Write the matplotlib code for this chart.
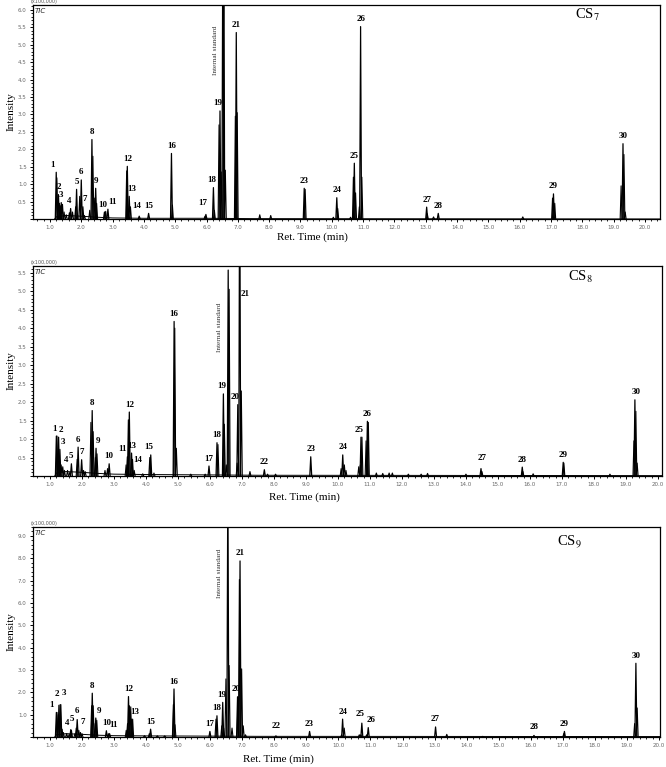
import numpy as np
import matplotlib
matplotlib.use("Agg")
import matplotlib.pyplot as plt
from matplotlib.ticker import MultipleLocator

plt.rcParams["mathtext.fontset"] = "stix"
SERIF = "Liberation Serif"

# ---- CS7 ----
cs7_ids = ["1", "2", "3", "4", "5", "6", "7", "8", "9", "10", "11", "12", "13", "14", "15",
           "16", "17", "18", "19", "IS", "21", "23", "24", "25", "26", "27", "28", "29", "30"]
cs7_t = [1.20, 1.27, 1.36, 1.66, 1.85, 2.00, 2.05, 2.34, 2.46, 2.74, 2.85, 3.47, 3.53, 3.85, 4.15,
         4.88, 5.98, 6.22, 6.43, 6.55, 6.95, 9.12, 10.16, 10.72, 10.92, 13.03, 13.40, 17.08, 19.30]
cs7_h = [1.34, 0.70, 0.47, 0.30, 0.85, 1.12, 0.35, 2.28, 0.88, 0.20, 0.28, 1.51, 0.65, 0.08, 0.16,
         1.88, 0.13, 0.90, 3.10, 9.00, 5.35, 0.88, 0.61, 1.60, 5.52, 0.34, 0.16, 0.72, 2.16]
cs7_xt = [1.22, 1.30, 1.33, 1.40, 1.45, 1.52, 1.62, 1.72, 1.82, 1.95, 2.10, 2.27, 2.37, 2.43, 2.49,
          2.78, 3.45, 3.57, 4.91, 5.95, 6.25, 6.40, 6.47, 6.52, 6.60, 6.92, 6.98, 7.70, 8.05, 9.15,
          10.05, 10.19, 10.60, 10.69, 10.76, 10.88, 10.96, 13.05, 13.25, 16.10, 17.05, 17.12,
          19.24, 19.33, 19.37]
cs7_xh = [1.18, 0.45, 0.38, 0.42, 0.20, 0.12, 0.18, 0.20, 0.35, 0.65, 0.10, 0.25, 1.80, 0.60, 0.45,
          0.22, 1.38, 0.35, 0.40, 0.08, 0.25, 2.70, 1.35, 9.00, 1.40, 2.95, 3.05, 0.12, 0.10, 0.85,
          0.05, 0.30, 0.05, 1.20, 0.75, 0.35, 1.20, 0.15, 0.06, 0.06, 0.60, 0.45,
          0.95, 1.85, 0.20]
cs7_bt = [1.15, 1.20, 1.50, 2.00, 2.50, 3.00, 4.00, 6.00, 7.50, 20.5]
cs7_bh = [0.00, 0.06, 0.10, 0.08, 0.05, 0.03, 0.02, 0.02, 0.01, 0.00]

# ---- CS8 ----
cs8_ids = ["1", "2", "3", "4", "5", "6", "7", "8", "9", "10", "11", "12", "13", "14", "15",
           "16", "17", "18", "19", "IS", "20", "21", "22", "23", "24", "25", "26", "27", "28", "29", "30"]
cs8_t = [1.20, 1.27, 1.31, 1.45, 1.67, 1.88, 1.99, 2.32, 2.44, 2.85, 3.42, 3.48, 3.55, 3.63, 4.15,
         4.88, 5.97, 6.22, 6.42, 6.57, 6.87, 6.93, 7.70, 9.15, 10.15, 10.72, 10.92, 14.47, 15.76,
         17.04, 19.28]
cs8_h = [1.08, 1.05, 0.72, 0.15, 0.33, 0.78, 0.44, 1.77, 0.75, 0.33, 0.52, 1.73, 0.62, 0.15, 0.57,
         4.18, 0.27, 0.90, 2.22, 5.57, 1.93, 9.00, 0.17, 0.52, 0.57, 1.05, 1.48, 0.20, 0.24,
         0.37, 2.06]
cs8_xt = [1.22, 1.25, 1.35, 1.40, 1.55, 1.62, 1.85, 2.05, 2.10, 2.28, 2.35, 2.42, 2.47, 2.72, 2.80,
          3.38, 3.45, 3.58, 3.90, 4.12, 4.25, 4.90, 4.95, 5.40, 5.85, 6.25, 6.45, 6.51, 6.60, 6.85,
          6.98, 7.25, 7.80, 8.05, 10.10, 10.20, 10.25, 10.65, 10.70, 10.75, 10.88, 10.95, 11.20,
          11.40, 11.60, 11.70, 12.20, 12.60, 12.80, 14.00, 14.50, 15.78, 16.10, 17.06, 18.50,
          19.25, 19.31, 19.35]
cs8_xh = [1.08, 0.50, 0.30, 0.25, 0.15, 0.10, 0.45, 0.15, 0.12, 1.45, 1.20, 0.50, 0.60, 0.15, 0.20,
          0.30, 1.52, 0.45, 0.06, 0.50, 0.08, 4.00, 0.75, 0.05, 0.05, 0.85, 1.40, 0.30, 5.05, 0.35,
          2.30, 0.12, 0.05, 0.05, 0.20, 0.30, 0.15, 0.25, 0.30, 1.05, 0.95, 1.45, 0.08,
          0.07, 0.08, 0.08, 0.05, 0.05, 0.07, 0.05, 0.12, 0.12, 0.06, 0.35, 0.05,
          0.95, 1.75, 0.35]
cs8_bt = [1.15, 1.20, 1.50, 2.00, 2.50, 3.00, 4.00, 6.00, 7.50, 20.5]
cs8_bh = [0.00, 0.08, 0.12, 0.10, 0.07, 0.05, 0.04, 0.03, 0.02, 0.01]

# ---- CS9 ----
cs9_ids = ["1", "2", "3", "4", "5", "6", "7", "8", "9", "10", "11", "12", "13", "15",
           "16", "17", "18", "19", "IS", "20", "21", "22", "23", "24", "25", "26", "27", "28", "29", "30"]
cs9_t = [1.20, 1.28, 1.32, 1.52, 1.65, 1.85, 1.95, 2.32, 2.43, 2.76, 2.86, 3.45, 3.55, 4.14,
         4.87, 5.99, 6.21, 6.39, 6.55, 6.87, 6.93, 8.05, 9.10, 10.13, 10.73, 10.93, 13.03, 16.10,
         17.05, 19.28]
cs9_h = [1.10, 1.42, 1.45, 0.15, 0.33, 0.78, 0.20, 1.96, 0.85, 0.28, 0.15, 1.81, 0.80, 0.35,
         2.15, 0.25, 0.95, 1.55, 12.0, 1.80, 7.88, 0.05, 0.25, 0.80, 0.62, 0.42, 0.45, 0.07,
         0.25, 3.30]
cs9_xt = [1.22, 1.26, 1.34, 1.38, 1.42, 1.60, 1.67, 1.78, 1.82, 1.90, 2.00, 2.30, 2.35, 2.41, 2.46,
          2.82, 3.38, 3.42, 3.48, 3.52, 3.58, 3.95, 4.10, 4.35, 4.58, 4.85, 4.90, 6.18, 6.36, 6.42,
          6.49, 6.59, 6.68, 6.85, 6.91, 6.98, 7.03, 7.10, 10.10, 10.18, 10.65, 10.70, 10.88,
          13.38, 14.50, 17.03, 19.24, 19.32]
cs9_xh = [1.10, 1.00, 1.45, 0.35, 0.20, 0.12, 0.30, 0.15, 0.40, 0.30, 0.15, 1.40, 1.40, 0.60, 0.75,
          0.15, 0.30, 0.60, 1.40, 1.35, 0.80, 0.06, 0.15, 0.05, 0.05, 1.45, 0.55, 0.80, 0.50, 0.40,
          2.60, 3.20, 0.40, 1.80, 7.05, 3.05, 0.50, 0.10, 0.10, 0.40, 0.10, 0.10, 0.10,
          0.12, 0.03, 0.15, 0.60, 1.30]
cs9_bt = [1.15, 1.20, 1.50, 2.00, 2.50, 3.00, 4.00, 6.00, 7.50, 20.5]
cs9_bh = [0.00, 0.10, 0.15, 0.12, 0.08, 0.06, 0.05, 0.04, 0.03, 0.02]

# label nudges in points (dx, dy)
cs7_nudge = {"1": (-2.5, 0), "4": (-1, 0), "7": (1.5, 0), "10": (-1.5, 0), "11": (3.5, 0),
             "13": (2, 0), "14": (-1.5, 2), "17": (-2.5, 3), "18": (-1, 0), "19": (-1.5, 0)}
cs8_nudge = {"1": (-1, 0), "2": (1.5, 0), "3": (2, 0), "4": (1, 2), "9": (1.5, 0), "11": (-3.5, 0),
             "13": (0.5, 0), "14": (2.5, 2), "15": (-1.5, 0), "19": (-1.5, 0), "20": (-2, 0),
             "25": (-1.5, 0), "27": (1, 2), "30": (1, 0)}
cs9_nudge = {"1": (-3.5, 0), "2": (-1.5, 3), "3": (2.5, 3), "4": (0.5, 2), "5": (1, 2),
             "6": (0, 1), "7": (1.5, 2), "9": (2, 0), "11": (3, 1), "13": (2, 0),
             "19": (-0.5, 0), "20": (-1.5, 0), "22": (0, 2), "25": (-1.5, 1), "26": (2, 0),
             "28": (0, 1)}

panels = [
    dict(ids=cs7_ids, t=cs7_t, h=cs7_h, xt=cs7_xt, xh=cs7_xh, bt=cs7_bt, bh=cs7_bh, nudge=cs7_nudge,
         name=r"CS$_7$", rect=[0.0495, 0.7145, 0.9414, 0.279], xlim=(0.457, 20.48), ylim=(0, 6.14),
         ymaj=0.5, ymin=0.1, xl=0.445, yl=-0.085, std=(5.55, 0.05), title=(0.885, 0.953)),
    dict(ids=cs8_ids, t=cs8_t, h=cs8_h, xt=cs8_xt, xh=cs8_xh, bt=cs8_bt, bh=cs8_bh, nudge=cs8_nudge,
         name=r"CS$_8$", rect=[0.0495, 0.3794, 0.9444, 0.2738], xlim=(0.469, 20.125), ylim=(0, 5.68),
         ymaj=0.5, ymin=0.1, xl=0.432, yl=-0.10, std=(4.7, 0.0), title=(0.871, 0.948)),
    dict(ids=cs9_ids, t=cs9_t, h=cs9_h, xt=cs9_xt, xh=cs9_xh, bt=cs9_bt, bh=cs9_bh, nudge=cs9_nudge,
         name=r"CS$_9$", rect=[0.0495, 0.0391, 0.9414, 0.2738], xlim=(0.470, 20.03), ylim=(0, 9.4),
         ymaj=1.0, ymin=0.2, xl=0.392, yl=-0.105, std=(8.45, 0.0), title=(0.855, 0.929)),
]

fig = plt.figure(figsize=(6.66, 7.67), dpi=100)
W = 0.03  # half width of a peak, min

for p in panels:
    ax = fig.add_axes(p["rect"])
    ax.plot(p["bt"], p["bh"], color="k", lw=0.7)
    for t, h in zip(p["xt"], p["xh"]):
        ax.plot([t - W, t, t + W], [0, h, 0], color="k", lw=0.8)
    for t, h in zip(p["t"], p["h"]):
        ax.plot([t - W, t, t + W], [0, h, 0], color="k", lw=0.9)
    for lab, t, h in zip(p["ids"], p["t"], p["h"]):
        if lab == "IS":
            ax.text(t - 0.27, p["std"][0], "Internal standard", rotation=90, ha="center", va="top",
                    fontsize=5.2, family=SERIF, color="#333333")
            continue
        dx, dy = p["nudge"].get(lab, (0, 0))
        if lab == "21" and p["name"] == r"CS$_8$":
            ax.text(t + 0.18, 4.93, lab, ha="center", va="center", fontsize=6.5,
                    fontweight="bold", family=SERIF)
            continue
        ax.annotate(lab, (t, min(h, p["ylim"][1])), xytext=(dx, 2.5 + dy), textcoords="offset points",
                    ha="center", va="bottom", fontsize=6.5, fontweight="bold", family=SERIF)

    ax.set_xlim(*p["xlim"])
    ax.set_ylim(*p["ylim"])
    ax.xaxis.set_major_locator(MultipleLocator(1.0))
    ax.xaxis.set_minor_locator(MultipleLocator(0.2))
    ax.yaxis.set_major_locator(MultipleLocator(p["ymaj"]))
    ax.yaxis.set_minor_locator(MultipleLocator(p["ymin"]))
    ax.xaxis.set_major_formatter(lambda v, pos: "%.1f" % v)
    ax.yaxis.set_major_formatter(lambda v, pos: "" if v < 0.01 else "%.1f" % v)
    ax.tick_params(which="major", length=2.5, width=0.7, labelsize=4, labelcolor="#666666", pad=2)
    ax.tick_params(which="minor", length=1.5, width=0.6)
    for s in ax.spines.values():
        s.set_linewidth(0.9)

    ax.text(0.002, 0.985, "TIC", transform=ax.transAxes, ha="left", va="top", fontsize=5,
            style="italic", color="#222222")
    ax.text(-0.004, 1.005, "(x100,000)", transform=ax.transAxes, ha="left", va="bottom",
            fontsize=3.5, color="#555555")
    ax.text(p["title"][0], p["title"][1], p["name"], transform=ax.transAxes, ha="center",
            va="center", fontsize=10.5, family=SERIF)
    ax.set_ylabel("Intensity", family=SERIF, fontsize=8, labelpad=2)
    ax.text(p["xl"], p["yl"], "Ret. Time (min)", transform=ax.transAxes, ha="center", va="center",
            family=SERIF, fontsize=8)

fig.savefig("out.png", dpi=100)
